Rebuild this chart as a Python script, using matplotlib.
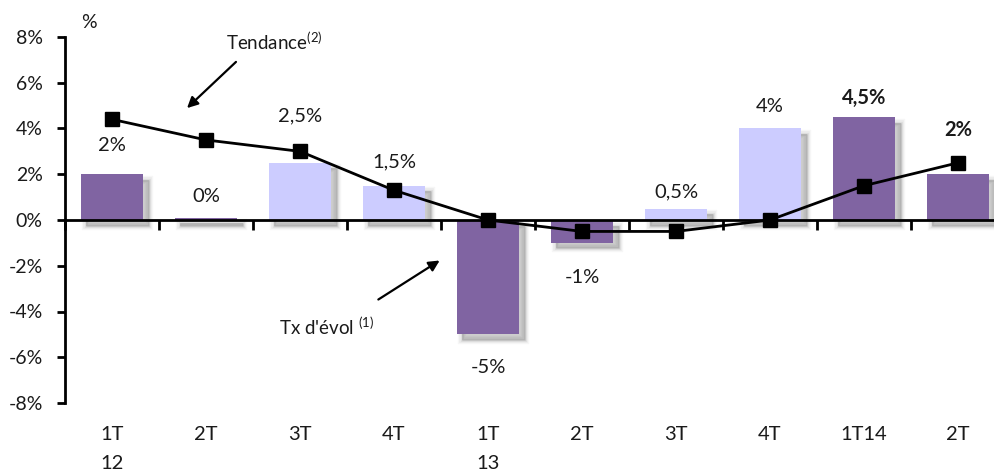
import matplotlib
matplotlib.use("Agg")
import matplotlib.pyplot as plt
import matplotlib.patheffects as pe
import numpy as np

plt.rcParams['font.family'] = ['Lato', 'DejaVu Sans']
plt.rcParams['mathtext.fontset'] = 'custom'
plt.rcParams['mathtext.rm'] = 'Lato'
plt.rcParams['mathtext.it'] = 'Lato:italic'
plt.rcParams['mathtext.bf'] = 'Lato:bold'

# ---- data ----
categories = ["1T\n12", "2T", "3T", "4T", "1T\n13", "2T", "3T", "4T", "1T14", "2T"]
evolution = [2.0, 0.1, 2.5, 1.5, -5.0, -1.0, 0.5, 4.0, 4.5, 2.0]
trend = [4.4, 3.5, 3.0, 1.3, 0.0, -0.5, -0.5, 0.0, 1.5, 2.5]
value_labels = ["2%", "0%", "2,5%", "1,5%", "-5%", "-1%", "0,5%", "4%", "4,5%", "2%"]
bold_labels = [False, False, False, False, False, False, False, False, True, True]
bar_shade = ["dark", "dark", "light", "light", "dark", "dark", "light", "light", "dark", "dark"]
y_ticks = [-8, -6, -4, -2, 0, 2, 4, 6, 8]
y_ticklabels = ["-8%", "-6%", "-4%", "-2%", "0%", "2%", "4%", "6%", "8%"]

# ---- style / layout ----
label_offsets_px = [29, 21, 47, 24, -33, -35, 17, 22, 19, 44]
colors = {"dark": "#8064A2", "light": "#CCCCFF"}
text_color = "#1a1a1a"

W, H = 994, 472
fig = plt.figure(figsize=(W / 100, H / 100), dpi=100)
ax = fig.add_axes([65 / W, 69 / H, 940 / W, 366 / H])

x = np.arange(len(categories))
bars = ax.bar(x, evolution, width=0.67, color=[colors[s] for s in bar_shade],
              zorder=2, edgecolor='none')
shadow = []
for lw, a in [(6, 0.05), (4, 0.07), (2, 0.09), (0.5, 0.10)]:
    shadow.append(pe.SimplePatchShadow(offset=(4, -4), shadow_rgbFace='#505050', alpha=a,
                                       linewidth=lw, foreground='#505050'))
for b in bars:
    b.set_path_effects(shadow + [pe.Normal()])

ax.plot(x, trend, color='black', lw=2, marker='s', markersize=9.5,
        markerfacecolor='black', markeredgecolor='black', zorder=4)

for xi, v, lab, off, bold in zip(x, evolution, value_labels, label_offsets_px, bold_labels):
    ax.annotate(lab, (xi, v), xytext=(0, off), textcoords='offset pixels',
                ha='center', va='center', fontsize=14.5,
                fontweight='bold' if bold else 'normal', color=text_color, zorder=5)

ax.set_xlim(-0.5, len(categories) - 0.5)
ax.set_ylim(-8, 8)
ax.set_yticks(y_ticks)
ax.set_yticklabels(y_ticklabels, fontsize=14, color=text_color)
ax.tick_params(axis='y', direction='out', length=6, width=2, pad=10, color='black')

for s in ['top', 'right']:
    ax.spines[s].set_visible(False)
ax.spines['left'].set_linewidth(2)
ax.spines['bottom'].set_position(('data', 0))
ax.spines['bottom'].set_linewidth(2)
ax.spines['bottom'].set_zorder(3)
ax.set_xticks(np.arange(len(categories) + 1) - 0.5)
ax.set_xticklabels([])
ax.tick_params(axis='x', direction='out', length=7, width=2, color='black')

for xi, c in zip(x, categories):
    ax.annotate(c, (xi, 0), xycoords=('data', 'axes fraction'), xytext=(0, -23),
                textcoords='offset pixels', ha='center', va='top', fontsize=14.5,
                color=text_color, linespacing=1.85)

fig.text(89 / W, 1 - 22 / H, "%", ha='center', va='center', fontsize=14, color=text_color)

ax.annotate("", xy=(185, H - 110), xycoords='figure pixels',
            xytext=(238, H - 60), textcoords='figure pixels',
            arrowprops=dict(arrowstyle='-|>', color='black', lw=1.6, mutation_scale=16))
fig.text(226 / W, 1 - 42 / H, r"Tendance$^{(2)}$", ha='left', va='center',
         fontsize=13.5, color=text_color)

ax.annotate("", xy=(442, H - 259), xycoords='figure pixels',
            xytext=(376, H - 301), textcoords='figure pixels',
            arrowprops=dict(arrowstyle='-|>', color='black', lw=1.6, mutation_scale=16))
fig.text(279 / W, 1 - 327 / H, r"Tx d'évol $^{(1)}$", ha='left', va='center',
         fontsize=13.5, color=text_color)

fig.savefig("out.png", dpi=100)
